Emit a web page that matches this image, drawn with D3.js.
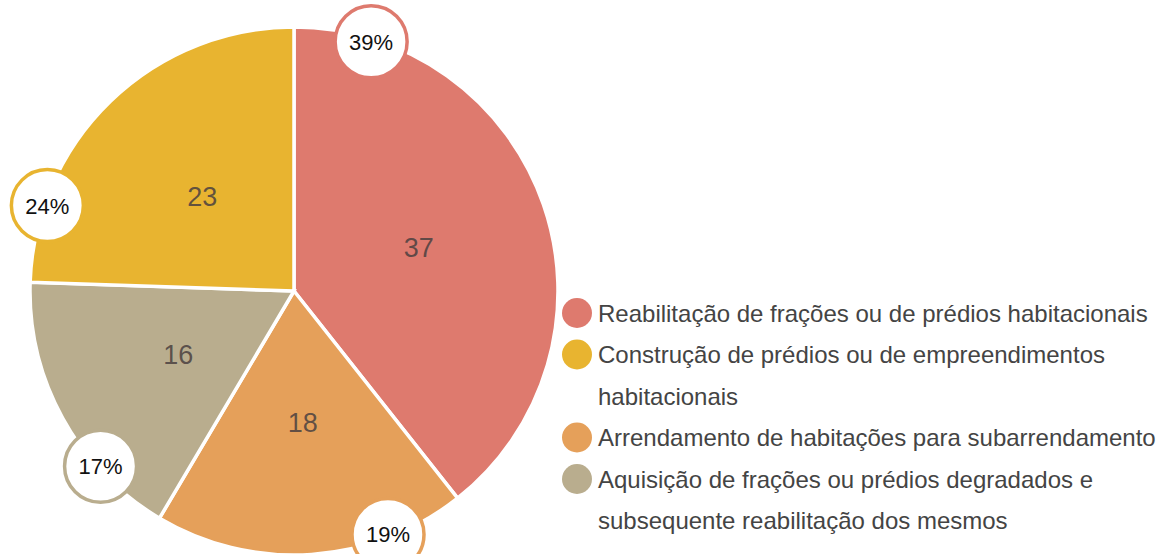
<!DOCTYPE html>
<html>
<head>
<meta charset="utf-8">
<script src="https://cdn.jsdelivr.net/npm/d3@7"></script>
<style>
  body { margin: 0; background: #fff; }
  svg { display: block; font-family: "Liberation Sans", Arial, sans-serif; }
</style>
</head>
<body>
<script>
// chart data
var categories = [
  "Reabilitação de frações ou de prédios habitacionais",
  "Arrendamento de habitações para subarrendamento",
  "Aquisição de frações ou prédios degradados e subsequente reabilitação dos mesmos",
  "Construção de prédios ou de empreendimentos habitacionais"
];
var values = [37, 18, 16, 23];
var colors = ["#de7a6e", "#e5a05a", "#b9ad8e", "#e8b430"];

// legend order and wrapped lines
var legendOrder = [0, 3, 1, 2];
var legendLines = [
  ["Reabilitação de frações ou de prédios habitacionais"],
  ["Construção de prédios ou de empreendimentos", "habitacionais"],
  ["Arrendamento de habitações para subarrendamento"],
  ["Aquisição de frações ou prédios degradados e", "subsequente reabilitação dos mesmos"]
];

var width = 1160, height = 554;
var cx = 294, cy = 291, radius = 264;

var svg = d3.select("body").append("svg")
    .attr("width", width)
    .attr("height", height);

var g = svg.append("g")
    .attr("transform", "translate(" + cx + "," + cy + ")");

var pie = d3.pie().sort(null).value(function(d) { return d; });
var arcs = pie(values);
var total = d3.sum(values);

var arc = d3.arc().innerRadius(0).outerRadius(radius);

// slices
g.selectAll("path.slice")
  .data(arcs)
  .enter().append("path")
    .attr("class", "slice")
    .attr("d", arc)
    .attr("fill", function(d, i) { return colors[i]; })
    .attr("stroke", "#fff")
    .attr("stroke-width", 3.5)
    .attr("stroke-linejoin", "miter");

// value labels
g.selectAll("text.value")
  .data(arcs)
  .enter().append("text")
    .attr("class", "value")
    .attr("transform", function(d) { return "translate(" + arc.centroid(d) + ")"; })
    .attr("text-anchor", "middle")
    .attr("dy", "0.36em")
    .attr("font-size", 27)
    .attr("fill", "#4a4040")
    .attr("fill-opacity", 0.85)
    .text(function(d) { return d.value; });

// percentage badges near the start of each slice
var badgeR = 261, badgeSize = 36;
var badge = g.selectAll("g.badge")
  .data(arcs)
  .enter().append("g")
    .attr("class", "badge")
    .attr("transform", function(d) {
      var a = d.startAngle + 0.3;
      return "translate(" + (badgeR * Math.sin(a)) + "," + (-badgeR * Math.cos(a)) + ")";
    });

badge.append("circle")
    .attr("r", badgeSize)
    .attr("fill", "#fff")
    .attr("stroke", function(d, i) { return colors[i]; })
    .attr("stroke-width", 3.5);

badge.append("text")
    .attr("text-anchor", "middle")
    .attr("dy", "0.36em")
    .attr("font-size", 22)
    .attr("fill", "#111")
    .text(function(d) { return Math.round(d.value / total * 100) + "%"; });

// legend
var legend = svg.append("g")
    .attr("transform", "translate(577,313)");

var lineH = 41.5;
var lineIndex = 0;

legendOrder.forEach(function(idx, k) {
  var item = legend.append("g")
      .attr("transform", "translate(0," + (lineIndex * lineH) + ")");
  item.append("circle")
      .attr("r", 15)
      .attr("fill", colors[idx]);
  var t = item.append("text")
      .attr("font-size", 24)
      .attr("fill", "#444");
  legendLines[k].forEach(function(line, j) {
    t.append("tspan")
      .attr("x", 21)
      .attr("y", j * lineH)
      .attr("dy", "0.37em")
      .text(line);
  });
  lineIndex += legendLines[k].length;
});
</script>
</body>
</html>
